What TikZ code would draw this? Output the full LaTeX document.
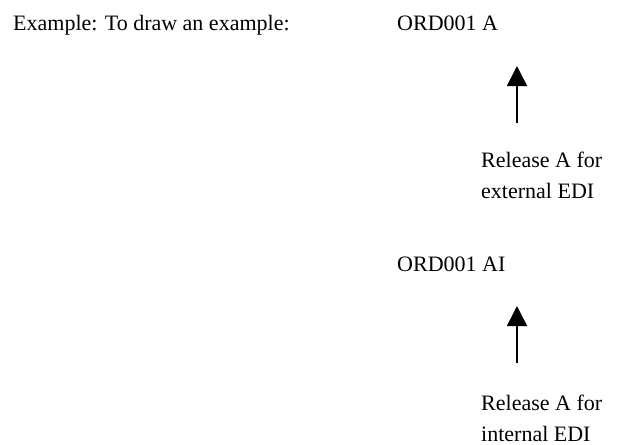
\documentclass[tikz,border=0pt]{standalone}
\usepackage{fontspec}
\setmainfont{Liberation Serif}
\usepackage{tikz}
\usetikzlibrary{positioning,%
  arrows.meta,%
  calc%
}

\begin{document}
\begin{tikzpicture}[x=1pt,y=-1pt,
    lbl/.style={anchor=base west,inner sep=0pt,align=left,
      font=\fontsize{22}{31}\selectfont},
    rel/.style={-{Triangle[width=20pt,length=20pt]},line width=1.6pt}]
            \useasboundingbox (0,0) rectangle (630,445);

            \node [lbl] (intro) at (13,30) {Example: To draw an example:};
            \node [lbl] (ordA) at (397,30) {ORD001 A};
            % base of a two-line node is its last line
            \node [lbl] (extA) at (481,198) {Release A for\\external EDI};
            \node [lbl] (ordAI) at (397,271) {ORD001 AI};
            \node [lbl] (intA) at (481,441) {Release A for\\internal EDI};

            \coordinate (e1) at (517,123);
            \coordinate (t1) at (517,66);
            \coordinate (e2) at (517,363);
            \coordinate (t2) at (517,306);

            \draw [rel] (e1) -- (t1);
            \draw [rel] (e2) -- (t2);
        \end{tikzpicture}
\end{document}
